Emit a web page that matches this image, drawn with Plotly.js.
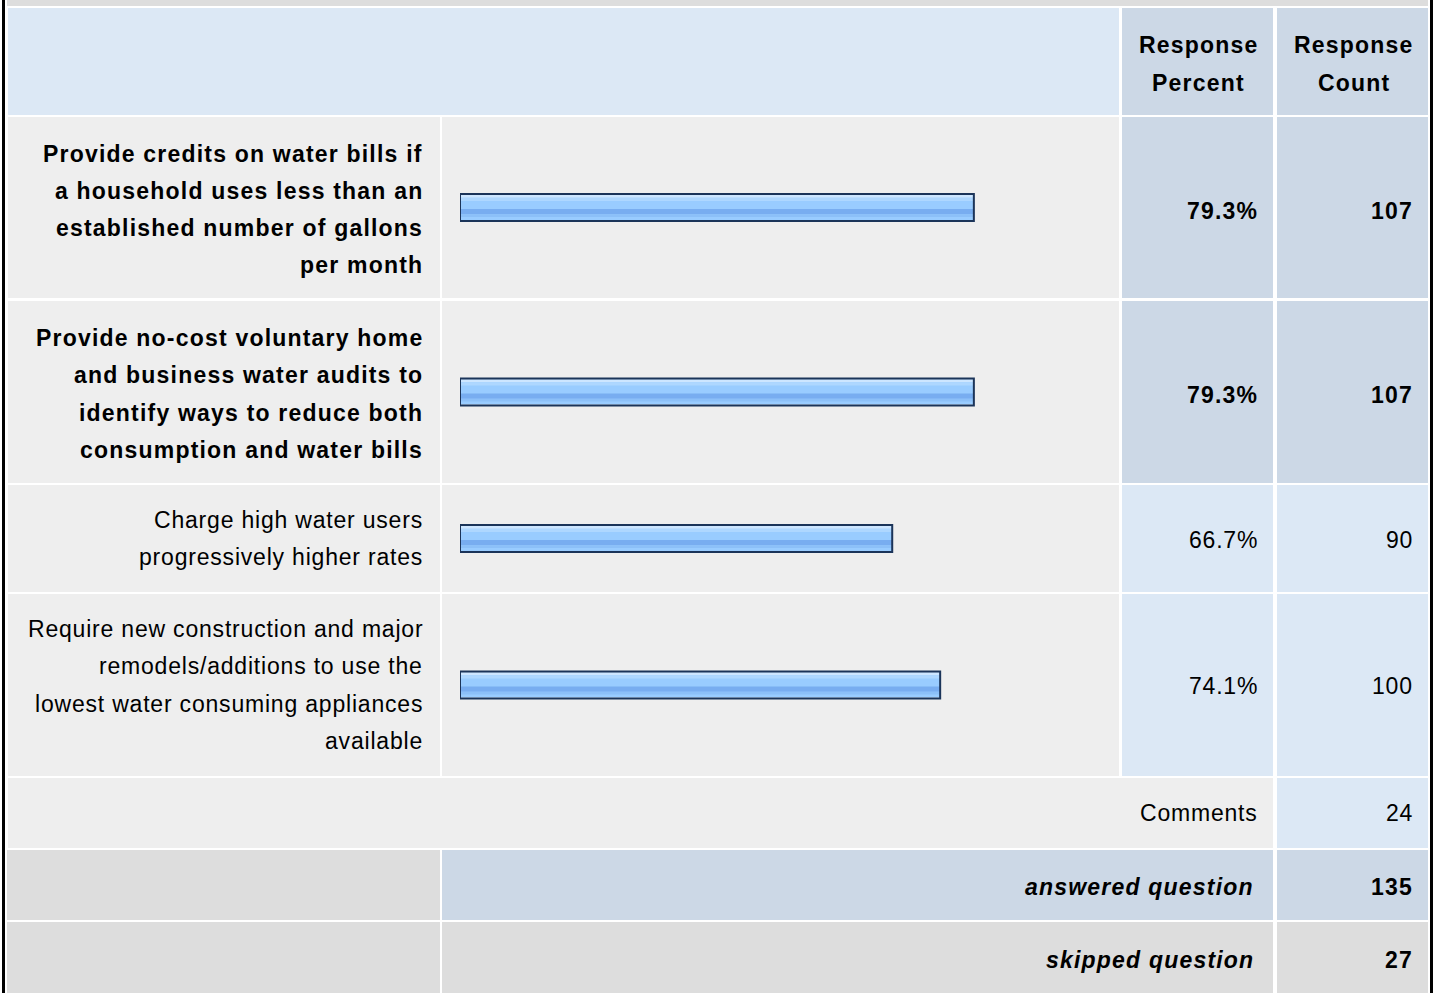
<!DOCTYPE html>
<html>
<head>
<meta charset="utf-8">
<script src="https://cdn.plot.ly/plotly-3.0.1.min.js"></script>
<style>
  html, body { margin: 0; padding: 0; background: #ffffff; }
  #chart { width: 1438px; height: 993px; }
  .annotation-text { letter-spacing: 0.8px; }
  .annotation-text[style*="font-weight: bold"], .annotation-text[style*="font-weight: 700"] { letter-spacing: 1.2px; }
</style>
</head>
<body>
<div id="chart"></div>
<script>
// ---------------- DATA ----------------
const answerChoices = [
  ["Provide credits on water bills if", "a household uses less than an", "established number of gallons", "per month"],
  ["Provide no-cost voluntary home", "and business water audits to", "identify ways to reduce both", "consumption and water bills"],
  ["Charge high water users", "progressively higher rates"],
  ["Require new construction and major", "remodels/additions to use the", "lowest water consuming appliances", "available"]
];
const responsePercent = [79.3, 79.3, 66.7, 74.1];
const responseCount = [107, 107, 90, 100];
const highlighted = [true, true, false, false];
const headerPercent = ["Response", "Percent"];
const headerCount = ["Response", "Count"];
const commentsLabel = "Comments";
const commentsCount = 24;
const answeredLabel = "answered question";
const answeredCount = 135;
const skippedLabel = "skipped question";
const skippedCount = 27;

// ---------------- LAYOUT GEOMETRY (pixels) ----------------
const W = 1438, H = 993;
const colA = [8, 440], colB = [442, 1119], colC = [1122, 1273], colD = [1277, 1428];
const headerRow = [8, 115];
const choiceRows = [[117, 298], [301, 483], [485, 592], [594, 776]];
const textShift = [3, 3, 1, 1];
const commentsRow = [778, 848];
const answeredRow = [850, 920];
const skippedRow = [922, 1000];
const barX = [460, 1108];
const FONT = "Liberation Sans, Arial, Helvetica, sans-serif";
const FS = 23;
const LINE_H = 37.3;
const PAD = 3; // compensates annotation padding + trailing letter-spacing

const C_LIGHTBLUE = "#dce8f5", C_BLUEGRAY = "#ccd8e6", C_GRAY = "#eeeeee", C_DARKGRAY = "#dddddd";

const px = x => x / W;
const py = y => 1 - y / H;

const shapes = [];
function cell(xr, yr, color) {
  shapes.push({type: "rect", xref: "paper", yref: "paper", layer: "below",
    x0: px(xr[0]), x1: px(xr[1]), y0: py(yr[1]), y1: py(yr[0]),
    fillcolor: color, line: {width: 0}});
}
const annotations = [];
function label(text, x, y, anchor, opts) {
  opts = opts || {};
  annotations.push({xref: "paper", yref: "paper", x: px(anchor === "right" ? x + PAD : x), y: py(y), text: text,
    showarrow: false, xanchor: anchor, yanchor: "middle", align: anchor === "center" ? "center" : "right",
    font: {family: FONT, size: FS, color: "#000000", weight: opts.bold ? "bold" : "normal", style: opts.italic ? "italic" : "normal"}});
}

// top strip
cell([7, 1428], [0, 6], C_DARKGRAY);
// header
cell([8, 1119], headerRow, C_LIGHTBLUE);
cell(colC, headerRow, C_BLUEGRAY);
cell(colD, headerRow, C_BLUEGRAY);
const hMid = (headerRow[0] + headerRow[1]) / 2;
headerPercent.forEach((t, k) => label(t, (colC[0] + colC[1]) / 2 + 1, hMid + 2.5 + (k - 0.5) * LINE_H, "center", {bold: true}));
headerCount.forEach((t, k) => label(t, (colD[0] + colD[1]) / 2 + 1, hMid + 2.5 + (k - 0.5) * LINE_H, "center", {bold: true}));

// choice rows
const traces = [];
const layoutAxes = {};
layoutAxes.xaxis = {domain: [px(barX[0]), px(barX[1])], range: [0, 100], visible: false, fixedrange: true, anchor: "y"};

choiceRows.forEach((r, i) => {
  const b = highlighted[i];
  cell(colA, r, C_GRAY);
  cell(colB, r, C_GRAY);
  cell(colC, r, b ? C_BLUEGRAY : C_LIGHTBLUE);
  cell(colD, r, b ? C_BLUEGRAY : C_LIGHTBLUE);
  const mid = (r[0] + r[1]) / 2;
  const lines = answerChoices[i];
  lines.forEach((t, k) => label(t, 422, mid + textShift[i] - 1 + (k - (lines.length - 1) / 2) * LINE_H, "right", {bold: b}));
  label(responsePercent[i].toFixed(1) + "%", 1257, mid + textShift[i], "right", {bold: b});
  label(String(responseCount[i]), 1412, mid + textShift[i], "right", {bold: b});

  // axis for this row
  const rowH = r[1] - r[0];
  const yName = i === 0 ? "yaxis" : "yaxis" + (i + 1);
  const yRef = i === 0 ? "y" : "y" + (i + 1);
  layoutAxes[yName] = {domain: [py(r[1]), py(r[0])], type: "category", range: [0.5, -0.5],
    visible: false, fixedrange: true, anchor: "x"};
  const cat = lines.join(" ");
  const f = p => p / rowH;   // pixel -> category units
  const stripes = [
    {color: "#99ccff", off: -12.5, w: 25},
    {color: "#cde6ff", off: -12.5, w: 2.7},
    {color: "#aed7ff", off: -9.8, w: 3.3},
    {color: "#78adf0", off: 1.5, w: 5.3},
    {color: "#8cc0f8", off: 6.8, w: 2.7}
  ];
  stripes.forEach(s => traces.push({type: "bar", orientation: "h", x: [responsePercent[i]], y: [cat],
    xaxis: "x", yaxis: yRef, width: [f(s.w)], offset: [f(s.off)],
    marker: {color: s.color, line: {width: 0}}, hoverinfo: "skip", showlegend: false}));
  traces.push({type: "bar", orientation: "h", x: [responsePercent[i]], y: [cat],
    xaxis: "x", yaxis: yRef, width: [f(27)], offset: [f(-13.5)],
    marker: {color: "rgba(0,0,0,0)", line: {width: 2, color: "#1b3459"}}, hoverinfo: "skip", showlegend: false});
});

// comments row
cell([8, 1273], commentsRow, C_GRAY);
cell(colD, commentsRow, C_LIGHTBLUE);
const cMid = (commentsRow[0] + commentsRow[1]) / 2;
label(commentsLabel, 1257, cMid, "right");
label(String(commentsCount), 1412, cMid, "right");

// answered row
cell([7, 440], answeredRow, C_DARKGRAY);
cell([442, 1273], answeredRow, C_BLUEGRAY);
cell(colD, answeredRow, C_BLUEGRAY);
const aMid = (answeredRow[0] + answeredRow[1]) / 2;
label(answeredLabel, 1253, aMid + 2, "right", {bold: true, italic: true});
label(String(answeredCount), 1412, aMid + 2, "right", {bold: true});

// skipped row
cell([7, 440], skippedRow, C_DARKGRAY);
cell([442, 1273], skippedRow, C_DARKGRAY);
cell(colD, skippedRow, C_DARKGRAY);
label(skippedLabel, 1253, 960, "right", {bold: true, italic: true});
label(String(skippedCount), 1412, 960, "right", {bold: true});

// outer frame
shapes.push({type: "line", xref: "paper", yref: "paper", x0: px(3.5), x1: px(3.5), y0: 0, y1: 1, line: {color: "#000000", width: 3}});
shapes.push({type: "line", xref: "paper", yref: "paper", x0: px(1431.5), x1: px(1431.5), y0: 0, y1: 1, line: {color: "#000000", width: 3}});

const layout = Object.assign({
  width: W, height: H,
  margin: {l: 0, r: 0, t: 0, b: 0, pad: 0},
  paper_bgcolor: "#ffffff",
  plot_bgcolor: "rgba(0,0,0,0)",
  barmode: "overlay",
  showlegend: false,
  shapes: shapes,
  annotations: annotations,
  font: {family: FONT, size: FS, color: "#000000"}
}, layoutAxes);

Plotly.newPlot("chart", traces, layout, {staticPlot: true, displayModeBar: false});
</script>
</body>
</html>
